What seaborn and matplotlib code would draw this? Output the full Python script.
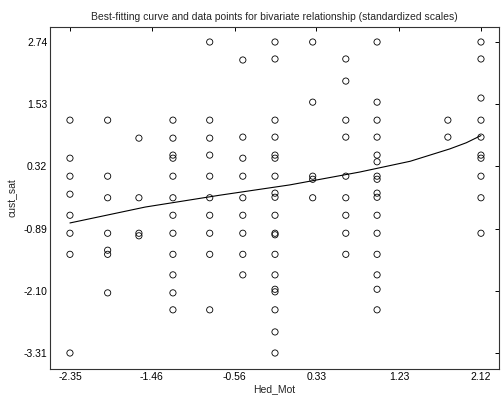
import numpy as np
import pandas as pd
import matplotlib
matplotlib.use("Agg")
import matplotlib.pyplot as plt
import seaborn as sns

# ---- data ----
col_x = [-2.35, -1.94, -1.60, -1.23, -0.83, -0.47, -0.12, 0.29, 0.65, 0.99, 1.76, 2.12]
col_y = [
    [1.22, 0.48, 0.13, -0.22, -0.63, -0.98, -1.39, -3.31],
    [1.22, 0.13, -0.29, -0.98, -1.31, -1.39, -2.14],
    [0.87, -0.29, -0.98, -1.03],
    [1.22, 0.87, 0.54, 0.48, 0.13, -0.29, -0.63, -0.98, -1.39, -1.79, -2.14, -2.47],
    [2.74, 1.22, 0.87, 0.54, 0.13, -0.29, -0.63, -0.98, -1.39, -2.47],
    [2.39, 0.89, 0.48, 0.13, -0.29, -0.63, -0.98, -1.39, -1.79],
    [2.74, 2.41, 1.22, 0.89, 0.54, 0.48, 0.13, -0.20, -0.28, -0.63, -0.98, -1.01,
     -1.39, -1.79, -2.07, -2.12, -2.47, -2.90, -3.31],
    [2.74, 1.57, 0.13, 0.07, -0.29],
    [2.41, 1.98, 1.22, 0.89, 0.13, -0.29, -0.63, -0.98, -1.39],
    [2.74, 1.57, 1.22, 0.89, 0.54, 0.41, 0.13, 0.07, -0.20, -0.28, -0.63, -0.98,
     -1.39, -1.79, -2.07, -2.47],
    [1.22, 0.89],
    [2.74, 2.41, 1.65, 1.22, 0.89, 0.54, 0.48, 0.13, -0.29, -0.98],
]
curve_x = [-2.35, -1.53, -0.72, 0.04, 0.80, 1.35, 1.78, 1.96, 2.12]
curve_y = [-0.78, -0.47, -0.24, -0.04, 0.21, 0.42, 0.66, 0.78, 0.92]

x_ticks = [-2.35, -1.46, -0.56, 0.33, 1.23, 2.12]
y_ticks = [-3.31, -2.10, -0.89, 0.32, 1.53, 2.74]
x_ticklabels = ["-2.35", "-1.46", "-0.56", "0.33", "1.23", "2.12"]
y_ticklabels = ["-3.31", "-2.10", "-0.89", "0.32", "1.53", "2.74"]

title = "Best-fitting curve and data points for bivariate relationship (standardized scales)"
x_label = "Hed_Mot"
y_label = "cust_sat"

# ---- build table ----
rows = []
for xv, ys in zip(col_x, col_y):
    for yv in ys:
        rows.append((xv, yv))
df = pd.DataFrame(rows, columns=[x_label, y_label])
curve_df = pd.DataFrame({x_label: curve_x, y_label: curve_y})

sns.set_style("white")
plt.rcParams["font.family"] = ["Liberation Sans", "DejaVu Sans"]

fig = plt.figure(figsize=(5.03, 3.96), dpi=100)
ax = fig.add_axes([50 / 503, 1 - 369 / 396, 449 / 503, 342 / 396])

sns.scatterplot(data=df, x=x_label, y=y_label, ax=ax, marker="o",
                facecolors="none", edgecolor="black", s=20, linewidth=0.6,
                legend=False)
sns.lineplot(data=curve_df, x=x_label, y=y_label, ax=ax, color="black",
             linewidth=0.8, sort=True, estimator=None)

ax.set_xlim(-2.567, 2.316)
ax.set_ylim(-3.621, 3.032)
ax.set_xticks(x_ticks)
ax.set_xticklabels(x_ticklabels)
ax.set_yticks(y_ticks)
ax.set_yticklabels(y_ticklabels)
ax.tick_params(direction="in", length=3, width=0.7, top=True, right=True,
               labelsize=7.5, pad=2, colors="black")
for s in ax.spines.values():
    s.set_visible(True)
    s.set_color("#333333")
    s.set_linewidth(0.8)

ax.set_title(title, fontsize=7.5, pad=5)
ax.set_xlabel(x_label, fontsize=7.5, labelpad=2)
ax.set_ylabel(y_label, fontsize=7.5, labelpad=4)

fig.savefig("out.png", dpi=100)
